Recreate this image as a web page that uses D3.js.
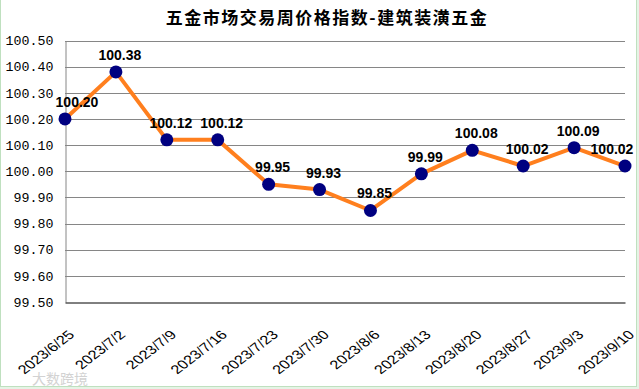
<!DOCTYPE html>
<html>
<head>
<meta charset="utf-8">
<script src="https://cdn.jsdelivr.net/npm/d3@7"></script>
<style>
  body { margin: 0; background: #e6f3e6; }
  svg { display: block; }
</style>
</head>
<body>
<svg width="639" height="389"></svg>
<script>
var dates = ['2023/6/25', '2023/7/2', '2023/7/9', '2023/7/16', '2023/7/23', '2023/7/30',
             '2023/8/6', '2023/8/13', '2023/8/20', '2023/8/27', '2023/9/3', '2023/9/10'];
var values = [100.20, 100.38, 100.12, 100.12, 99.95, 99.93, 99.85, 99.99, 100.08, 100.02, 100.09, 100.02];
var yTicks = [99.5, 99.6, 99.7, 99.8, 99.9, 100.0, 100.1, 100.2, 100.3, 100.4, 100.5];
var title = '五金市场交易周价格指数-建筑装潢五金';

var svg = d3.select('svg'),
    width = +svg.attr('width'),
    height = +svg.attr('height');

var margin = {left: 65, right: 14, top: 40.5, bottom: 87};

// page background with the green frame
svg.append('rect')
    .attr('x', 0.5).attr('y', -1)
    .attr('width', 636).attr('height', 387.5)
    .attr('fill', '#fff')
    .attr('stroke', '#bfe0bf');

var x = d3.scalePoint()
    .domain(dates)
    .range([margin.left, width - margin.right]);

var y = d3.scaleLinear()
    .domain([99.5, 100.5])
    .range([height - margin.bottom, margin.top]);

var g = svg.append('g');

// grid lines
g.selectAll('.grid')
    .data(yTicks.slice(1))
    .enter()
    .append('line')
    .attr('x1', margin.left).attr('x2', width - margin.right)
    .attr('y1', function(d) { return Math.round(y(d)) + 0.5; })
    .attr('y2', function(d) { return Math.round(y(d)) + 0.5; })
    .attr('stroke', '#868686');

// y axis
var yAxis = d3.axisLeft(y)
    .tickValues(yTicks)
    .tickSize(0)
    .tickPadding(12)
    .tickFormat(d3.format('.2f'));

var ya = g.append('g')
    .attr('transform', 'translate(' + (margin.left + 0.5) + ',0)')
    .call(yAxis);
ya.select('.domain').attr('stroke', '#868686');
ya.selectAll('text')
    .attr('font-family', '"Liberation Mono", "DejaVu Sans Mono", monospace')
    .attr('font-size', '13.3px')
    .attr('fill', '#000');

// x axis (labels look horizontally stretched in the original)
var xAxis = d3.axisBottom(x).tickSize(0).tickPadding(0);
var xa = g.append('g')
    .attr('transform', 'translate(0,' + (Math.round(y(99.5)) + 0.5) + ')')
    .call(xAxis);
xa.select('.domain').attr('stroke', '#000');
xa.selectAll('text')
    .attr('font-family', 'Arial, "Liberation Sans", sans-serif')
    .attr('font-size', '12.5px')
    .attr('fill', '#000')
    .attr('text-anchor', 'end')
    .attr('dy', null)
    .attr('y', 0)
    .attr('transform', 'translate(10,33) scale(1.3,1) rotate(-45)');

// line
var line = d3.line()
    .x(function(d, i) { return x(dates[i]); })
    .y(function(d) { return y(d); });

g.append('path')
    .datum(values)
    .attr('d', line)
    .attr('fill', 'none')
    .attr('stroke', '#ff7f1e')
    .attr('stroke-width', 4)
    .attr('stroke-linejoin', 'round');

g.selectAll('.dot')
    .data(values)
    .enter()
    .append('circle')
    .attr('cx', function(d, i) { return x(dates[i]); })
    .attr('cy', function(d) { return y(d); })
    .attr('r', 6.5)
    .attr('fill', '#000080');

// data labels
g.selectAll('.label')
    .data(values)
    .enter()
    .append('text')
    .attr('x', function(d, i) {
        var px = x(dates[i]) + 4;
        return Math.max(margin.left + 12, Math.min(px, width - margin.right - 13));
    })
    .attr('y', function(d) { return y(d) - 12; })
    .attr('text-anchor', 'middle')
    .attr('font-family', 'Arial, "Liberation Sans", sans-serif')
    .attr('font-weight', 'bold')
    .attr('font-size', '14px')
    .attr('fill', '#000')
    .text(function(d) { return d.toFixed(2); });

// title
svg.append('text')
    .attr('x', 327)
    .attr('y', 24)
    .attr('text-anchor', 'middle')
    .attr('font-family', '"Noto Sans CJK SC", sans-serif')
    .attr('font-weight', 'bold')
    .attr('font-size', '17px')
    .attr('letter-spacing', '1.5px')
    .attr('fill', '#000')
    .text(title);

// watermark
svg.append('text')
    .attr('x', 32)
    .attr('y', 384)
    .attr('font-family', '"Noto Sans CJK SC", sans-serif')
    .attr('font-size', '14px')
    .attr('fill', '#c8c8c8')
    .attr('opacity', 0.8)
    .text('大数跨境');
</script>
</body>
</html>
